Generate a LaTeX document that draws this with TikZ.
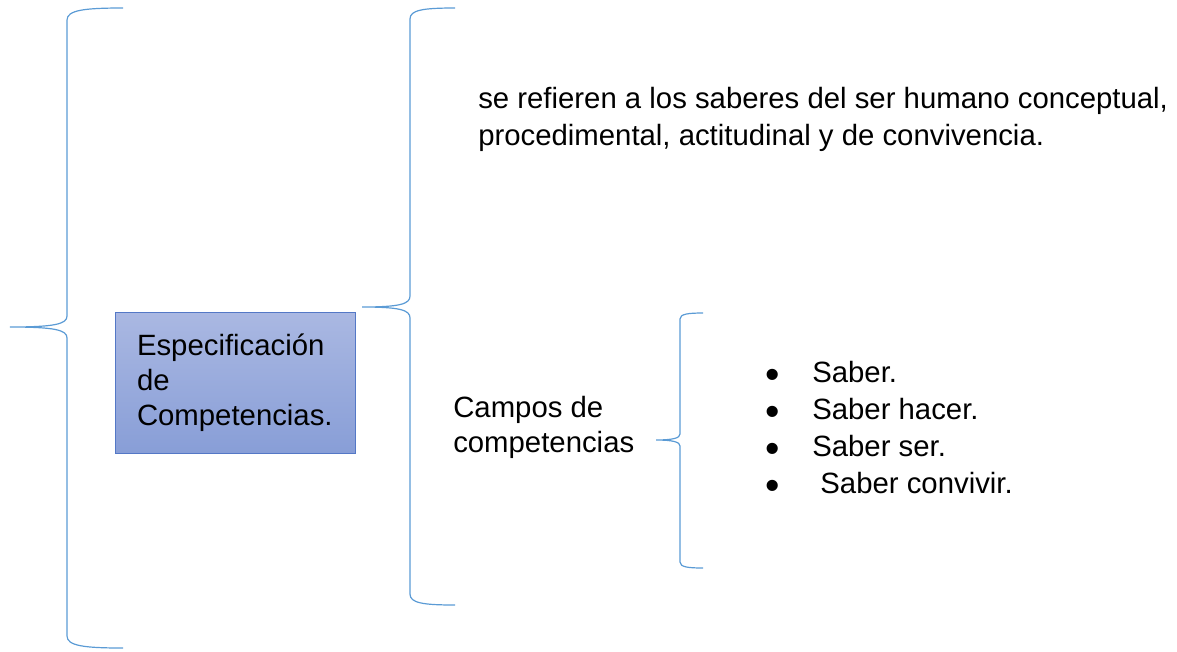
\documentclass[tikz,border=0pt]{standalone}
\usepackage{fontspec}
\usepackage{graphicx}
\setmainfont{Liberation Sans}
\definecolor{llave}{RGB}{91,155,213}
\definecolor{cajaborde}{RGB}{84,120,198}
\definecolor{cajaarriba}{RGB}{170,184,226}
\definecolor{cajaabajo}{RGB}{136,158,215}
\newcommand{\vineta}{\makebox[34.5pt][l]{\hspace{-0.5pt}\raisebox{-4.6pt}[0pt][0pt]{\scalebox{1.4}{•}}}}
\tikzset{
  llave/.style={draw=llave, line width=0.9pt},
  caja/.style={draw=cajaborde, line width=0.7pt, top color=cajaarriba, bottom color=cajaabajo,
    minimum width=180pt, minimum height=105.75pt, text width=147pt, inner xsep=16.5pt, align=left},
  texto/.style={inner sep=0pt, align=left, anchor=base west}
}
\begin{document}
\begin{tikzpicture}[x=0.75pt,y=-0.75pt,font=\fontsize{22}{26.25}\selectfont]
  \useasboundingbox (0,0) rectangle (1177,651);
  \node [caja] (espec) at (235,382.5) {Especificación\\de\\Competencias.};
  \node [texto, font=\fontsize{22}{27.75}\selectfont] (saberes) at (478,145)
    {se refieren a los saberes del ser humano conceptual,\\procedimental, actitudinal y de convivencia.};
  \node [texto] (campos) at (453,452) {Campos de\\competencias};
  \node [texto, font=\fontsize{22}{27.75}\selectfont] (lista) at (766,493)
    {\vineta Saber.\\\vineta Saber hacer.\\\vineta Saber ser.\\\vineta\ Saber convivir.};
  \coordinate (punta1) at (10,327);
  \coordinate (punta2) at (362,307);
  \coordinate (punta3) at (656,440);
  \draw [llave] (123,8) .. controls (85,8) and (67,10) .. (67,20) -- (67,316)
    .. controls (67,324) and (55,327) .. (punta1)
    .. controls (55,327) and (67,330) .. (67,338) -- (67,636)
    .. controls (67,646) and (85,648) .. (123,648);
  \draw [llave] (455,8) .. controls (423,8) and (410,10) .. (410,19) -- (410,296)
    .. controls (410,304) and (400,307) .. (punta2)
    .. controls (400,307) and (410,310) .. (410,318) -- (410,594)
    .. controls (410,603) and (423,605) .. (455,605);
  \draw [llave] (703,313) .. controls (688,313) and (680,314) .. (680,319) -- (680,434)
    .. controls (680,438) and (673,440) .. (punta3)
    .. controls (673,440) and (680,442) .. (680,446) -- (680,562)
    .. controls (680,567) and (688,568) .. (703,568);
\end{tikzpicture}
\end{document}
